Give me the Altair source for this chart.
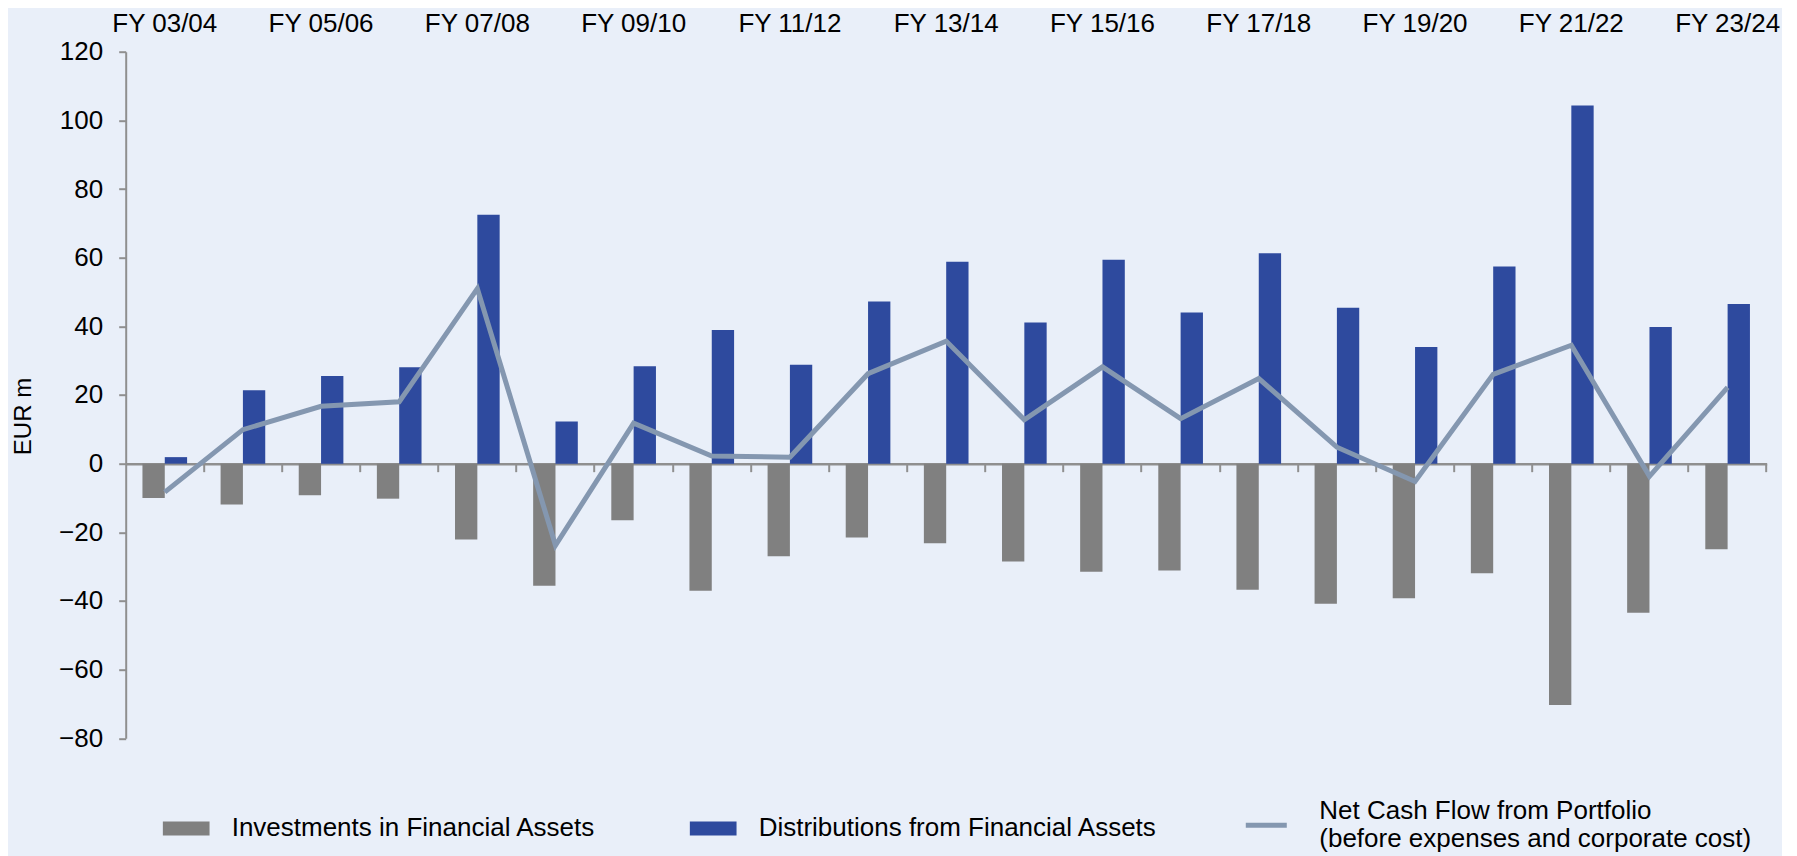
import altair as alt
import pandas as pd

categories = ["FY 03/04", "FY 04/05", "FY 05/06", "FY 06/07", "FY 07/08", "FY 08/09",
              "FY 09/10", "FY 10/11", "FY 11/12", "FY 12/13", "FY 13/14", "FY 14/15",
              "FY 15/16", "FY 16/17", "FY 17/18", "FY 18/19", "FY 19/20", "FY 20/21",
              "FY 21/22", "FY 22/23", "FY 23/24"]
investments = [-10.0, -11.9, -9.2, -10.2, -22.1, -35.6, -16.5, -37.0, -27.0, -21.5, -23.2,
               -28.5, -31.5, -31.1, -36.7, -40.8, -39.2, -31.9, -70.3, -43.4, -24.9]
distributions = [1.9, 21.4, 25.5, 28.1, 72.5, 12.3, 28.4, 38.9, 28.8, 47.2, 58.8,
                 41.1, 59.4, 44.0, 61.3, 45.4, 34.0, 57.4, 104.3, 39.8, 46.5]
net_cash_flow = [-8.3, 9.9, 16.7, 18.0, 51.0, -23.8, 11.8, 2.2, 1.9, 26.2, 35.7,
                 12.8, 28.2, 13.1, 24.8, 4.8, -5.2, 26.0, 34.5, -3.7, 22.2]
top_labels = categories[::2]
y_ticks = [-80, -60, -40, -20, 0, 20, 40, 60, 80, 100, 120]

S_INV = "Investments in Financial Assets"
S_DIST = "Distributions from Financial Assets"
S_NET = "Net Cash Flow from Portfolio"
S_NET_LINES = ["Net Cash Flow from Portfolio", "(before expenses and corporate cost)"]

bars = pd.DataFrame({
    "year": categories * 2,
    "series": [S_INV] * len(categories) + [S_DIST] * len(categories),
    "value": investments + distributions,
})
line = pd.DataFrame({"year": categories, "series": [S_NET] * len(categories), "value": net_cash_flow})

FONT = "Liberation Sans"
BG = "#E9EFF9"
AXIS_GREY = "#8f8f8f"
W, H = 1641, 686.6

y_scale = alt.Scale(domain=[-80, 120], nice=False, zero=False)
x_scale = alt.Scale(domain=categories, paddingInner=0, paddingOuter=0)

y_axis = alt.Axis(values=y_ticks, grid=False, domainColor=AXIS_GREY, domainWidth=2,
                  tickColor=AXIS_GREY, tickWidth=2, tickSize=7, labelFontSize=26,
                  labelFont=FONT, labelColor="black", labelPadding=16,
                  title="EUR m", titleFont=FONT, titleFontSize=24, titleFontWeight="normal",
                  titleColor="black", titleAngle=270, titleX=-101.7, titleY=364.3,
                  titleAlign="center", titleBaseline="middle")

bar_layer = alt.Chart(bars).mark_bar().encode(
    x=alt.X("year:N", sort=categories, scale=x_scale,
            axis=alt.Axis(orient="top", values=top_labels, ticks=False, tickSize=0, domain=False,
                          labelAngle=0, labelFontSize=26, labelFont=FONT, labelColor="black",
                          labelPadding=28, labelBaseline="middle", title=None, grid=False)),
    xOffset=alt.XOffset("series:N", sort=[S_INV, S_DIST],
                        scale=alt.Scale(paddingInner=0, paddingOuter=0.75)),
    y=alt.Y("value:Q", scale=y_scale, axis=y_axis),
    color=alt.Color("series:N", sort=[S_INV, S_DIST],
                    scale=alt.Scale(domain=[S_INV, S_DIST], range=["#808080", "#2E4A9E"]),
                    legend=alt.Legend(orient="none", legendX=37, legendY=753, direction="horizontal",
                                      title=None, symbolType="M-1,-0.3H1V0.3H-1Z", symbolSize=2181,
                                      symbolStrokeWidth=0, labelFontSize=26, labelFont=FONT,
                                      labelColor="black", labelOffset=22, columnPadding=93,
                                      labelLimit=800, padding=0)),
)

line_layer = alt.Chart(line).mark_line(strokeWidth=5, strokeJoin="miter", strokeCap="butt").encode(
    x=alt.X("year:N", sort=categories, scale=x_scale,
            axis=alt.Axis(orient="bottom", offset=-(H * 0.4), labels=False, ticks=True, tickSize=8,
                          tickWidth=2, tickColor=AXIS_GREY, domainColor=AXIS_GREY, domainWidth=2.5,
                          bandPosition=1, grid=False, title=None)),
    y=alt.Y("value:Q", scale=y_scale, axis=y_axis),
    stroke=alt.Stroke("series:N",
                      scale=alt.Scale(domain=[S_NET], range=["#8497B0"]),
                      legend=alt.Legend(orient="none", legendX=1117.6, legendY=750.5, title=None,
                                        symbolType="stroke", symbolSize=1681, symbolStrokeWidth=5,
                                        labelFontSize=26, labelFont=FONT, labelColor="black",
                                        labelOffset=30, labelLimit=800, padding=0,
                                        labelBaseline="line-bottom",
                                        labelExpr="['" + S_NET_LINES[0] + "', '" + S_NET_LINES[1] + "']")),
)

chart = alt.layer(bar_layer, line_layer).resolve_axis(x="independent").properties(
    width=W, height=H,
    autosize=alt.AutoSizeParams(type="none"),
    padding={"left": 117.7, "top": 43.7, "right": 15, "bottom": 118},
    background=BG,
).configure_view(stroke=None)

chart.save("out.html", embed_options={"renderer": "svg", "actions": False})
